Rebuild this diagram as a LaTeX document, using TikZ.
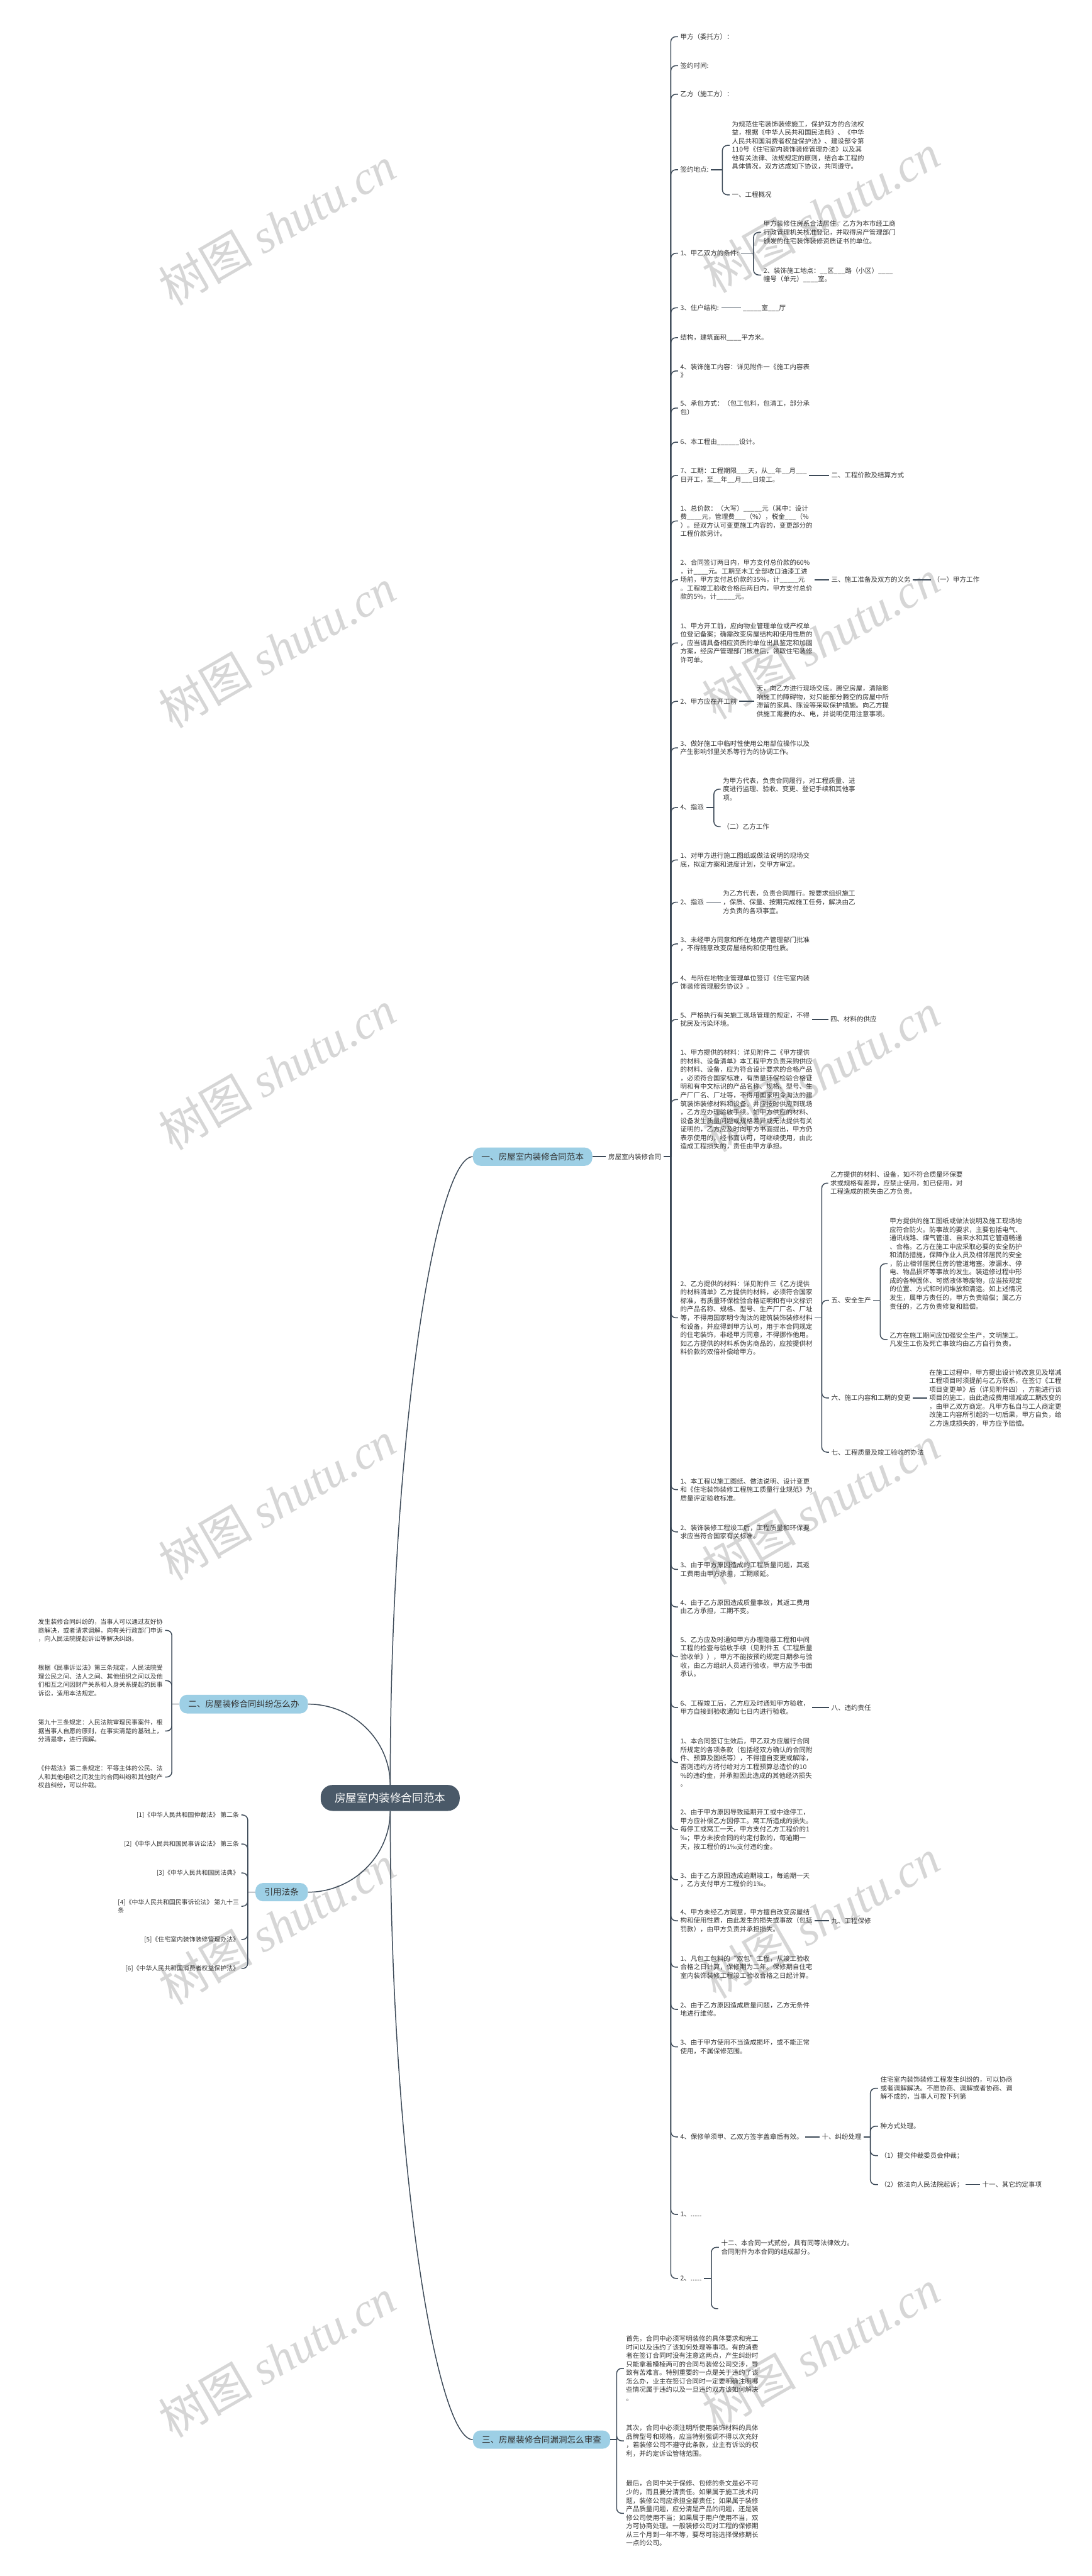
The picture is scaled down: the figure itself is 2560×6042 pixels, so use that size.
\documentclass[tikz,border=0pt]{standalone}
\usepackage{fontspec}
\setmainfont{Noto Sans CJK SC}
\newfontfamily\wmlatin{Liberation Serif}
\definecolor{lc}{HTML}{3D4A58}
\definecolor{tc}{HTML}{333333}
\definecolor{lb}{HTML}{9DCFE5}
\definecolor{rc}{HTML}{4A5968}
\definecolor{wmc}{HTML}{D6D6D6}
\begin{document}
\begin{tikzpicture}[x=0.5pt,y=-0.5pt,
  conn/.style={draw=lc,line width=1.1pt,rounded corners=6pt},
  bt/.style={anchor=west,align=left,inner xsep=2.5pt,inner ysep=1pt,text=tc,font=\fontsize{7.75pt}{10pt}\selectfont},
  lt/.style={anchor=east,align=left,inner xsep=2.5pt,inner ysep=1pt,text=tc,font=\fontsize{7.3pt}{10pt}\selectfont},
  lvone/.style={fill=lb,rounded corners=9pt,inner sep=0pt,text=tc,font=\fontsize{10pt}{12pt}\selectfont,minimum height=21.5pt},
  rootbox/.style={fill=rc,rounded corners=14pt,inner sep=0pt,text=white,font=\fontsize{13pt}{15pt}\selectfont,minimum height=30.5pt,minimum width=163pt},
  wm/.style={text=wmc,font=\fontsize{55pt}{55pt}\selectfont,rotate=30,inner sep=0pt}]
\useasboundingbox (0,0) rectangle (2560,6042);
\fill[white] (0,0) rectangle (2560,6042);
% watermarks
\foreach \wy in {500,1500,2515,3530,4500,5510} {\node[wm] at (1925,\wy) {树图 {\wmlatin\itshape shutu.cn}};}
\foreach \wy in {530,1520,2510,3520,4515,5530} {\node[wm] at (650,\wy) {树图 {\wmlatin\itshape shutu.cn}};}
% junction coordinates
\coordinate (JA) at (1573,0);
\coordinate (JA4) at (1694,0);
\coordinate (JA5) at (1767,0);
\coordinate (JA17) at (1674,0);
\coordinate (JB) at (1927,0);
\coordinate (JB2) at (2064,0);
\coordinate (JD) at (2041,0);
\coordinate (JE) at (1668,0);
\coordinate (JF) at (1446,0);
\coordinate (JL2) at (403,0);
\coordinate (JL4) at (581,0);
% root and level one
\node[rootbox] (root) at (915,4217) {房屋室内装修合同范本};
\node[lvone,minimum width=140pt] (n1) at (1249,2713) {一、房屋室内装修合同范本};
\node[lvone,minimum width=150.5pt,minimum height=22pt] (n2) at (571.5,3997) {二、房屋装修合同纠纷怎么办};
\node[lvone,minimum width=161pt] (n3) at (1270,5722) {三、房屋装修合同漏洞怎么审查};
\node[lvone,minimum width=61.5pt] (n4) at (660.5,4438) {引用法条};
\node[bt] (hc) at (1421,2713) {房屋室内装修合同};
% trunk A children
\node[bt] (a1) at (1590,86) {甲方（委托方）：};
\node[bt] (a2) at (1590,154) {签约时间:};
\node[bt] (a3) at (1590,221) {乙方（施工方）：};
\node[bt] (a4) at (1590,398) {签约地点:};
\node[bt] (a5) at (1590,594) {1、甲乙双方的条件:};
\node[bt] (a6) at (1590,722) {3、住户结构:};
\node[bt] (a7) at (1590,792) {结构，建筑面积\_\_\_\_平方米。};
\node[bt] (a8) at (1590,870) {4、装饰施工内容：详见附件一《施工内容表\\》};
\node[bt] (a9) at (1590,957) {5、承包方式：（包工包料，包清工，部分承\\包）};
\node[bt] (a10) at (1590,1037) {6、本工程由\_\_\_\_\_\_设计。};
\node[bt] (a11) at (1590,1115) {7、工期：工程期限\_\_\_天，从\_\_年\_\_月\_\_\_\\日开工，至\_\_年\_\_月\_\_\_日竣工。};
\node[bt] (a12) at (1590,1222) {1、总价款：（大写）\_\_\_\_\_元（其中：设计\\费\_\_\_\_元，管理费\_\_\_（\%），税金\_\_\_（\%\\）。经双方认可变更施工内容的，变更部分的\\工程价款另计。};
\node[bt] (a13) at (1590,1360) {2、合同签订两日内，甲方支付总价款的60\%\\，计\_\_\_\_元。工期至木工全部收口油漆工进\\场前，甲方支付总价款的35\%，计\_\_\_\_\_元\\。工程竣工验收合格后两日内，甲方支付总价\\款的5\%，计\_\_\_\_\_元。};
\node[bt] (a14) at (1590,1508) {1、甲方开工前，应向物业管理单位或产权单\\位登记备案；确需改变房屋结构和使用性质的\\，应当请具备相应资质的单位出具鉴定和加固\\方案，经房产管理部门核准后，领取住宅装修\\许可单。};
\node[bt] (a15) at (1590,1645) {2、甲方应在开工前};
\node[bt] (a16) at (1590,1754) {3、做好施工中临时性使用公用部位操作以及\\产生影响邻里关系等行为的协调工作。};
\node[bt] (a17) at (1590,1894) {4、指派};
\node[bt] (a18) at (1590,2017) {1、对甲方进行施工图纸或做法说明的现场交\\底，拟定方案和进度计划，交甲方审定。};
\node[bt] (a19) at (1590,2116) {2、指派};
\node[bt] (a20) at (1590,2214) {3、未经甲方同意和所在地房产管理部门批准\\，不得随意改变房屋结构和使用性质。};
\node[bt] (a21) at (1590,2304) {4、与所在地物业管理单位签订《住宅室内装\\饰装修管理服务协议》。};
\node[bt] (a22) at (1590,2391) {5、严格执行有关施工现场管理的规定，不得\\扰民及污染环境。};
\node[bt] (a23) at (1590,2579) {1、甲方提供的材料：详见附件二《甲方提供\\的材料、设备清单》本工程甲方负责采购供应\\的材料、设备，应为符合设计要求的合格产品\\，必须符合国家标准，有质量环保检验合格证\\明和有中文标识的产品名称、规格、型号、生\\产厂厂名、厂址等，不得用国家明令淘汰的建\\筑装饰装修材料和设备。并应按时供应到现场\\，乙方应办理验收手续。如甲方供应的材料、\\设备发生质量问题或规格差异或无法提供有关\\证明的，乙方应及时向甲方书面提出，甲方仍\\表示使用的，经书面认可，可继续使用，由此\\造成工程损失的，责任由甲方承担。};
\node[bt] (a24) at (1590,3091) {2、乙方提供的材料：详见附件三《乙方提供\\的材料清单》乙方提供的材料，必须符合国家\\标准，有质量环保检验合格证明和有中文标识\\的产品名称、规格、型号、生产厂厂名、厂址\\等，不得用国家明令淘汰的建筑装饰装修材料\\和设备，并应得到甲方认可，用于本合同规定\\的住宅装饰，非经甲方同意，不得挪作他用。\\如乙方提供的材料系伪劣商品的，应按提供材\\料价款的双倍补偿给甲方。};
\node[bt] (a25) at (1590,3494) {1、本工程以施工图纸、做法说明、设计变更\\和《住宅装饰装修工程施工质量行业规范》为\\质量评定验收标准。};
\node[bt] (a26) at (1590,3593) {2、装饰装修工程竣工后，工程质量和环保要\\求应当符合国家有关标准。};
\node[bt] (a27) at (1590,3681) {3、由于甲方原因造成的工程质量问题，其返\\工费用由甲方承担，工期顺延。};
\node[bt] (a28) at (1590,3769) {4、由于乙方原因造成质量事故，其返工费用\\由乙方承担，工期不变。};
\node[bt] (a29) at (1590,3886) {5、乙方应及时通知甲方办理隐蔽工程和中间\\工程的检查与验收手续（见附件五《工程质量\\验收单》），甲方不能按预约规定日期参与验\\收，由乙方组织人员进行验收，甲方应予书面\\承认。};
\node[bt] (a30) at (1590,4005) {6、工程竣工后，乙方应及时通知甲方验收，\\甲方自接到验收通知七日内进行验收。};
\node[bt] (a31) at (1590,4134) {1、本合同签订生效后，甲乙双方应履行合同\\所规定的各项条款（包括经双方确认的合同附\\件、预算及图纸等），不得擅自变更或解除，\\否则违约方将付给对方工程预算总造价的10\\\%的违约金，并承担因此造成的其他经济损失\\。};
\node[bt] (a32) at (1590,4291) {2、由于甲方原因导致延期开工或中途停工，\\甲方应补偿乙方因停工。窝工所造成的损失。\\每停工或窝工一天，甲方支付乙方工程价的1\\‰；甲方未按合同的约定付款的，每逾期一\\天，按工程价的1‰支付违约金。};
\node[bt] (a33) at (1590,4409) {3、由于乙方原因造成逾期竣工，每逾期一天\\，乙方支付甲方工程价的1‰。};
\node[bt] (a34) at (1590,4505) {4、甲方未经乙方同意，甲方擅自改变房屋结\\构和使用性质，由此发生的损失或事故（包括\\罚款），由甲方负责并承担损失。};
\node[bt] (a35) at (1590,4614) {1、凡包工包料的“双包”工程，从竣工验收\\合格之日计算，保修期为二年。保修期自住宅\\室内装饰装修工程竣工验收合格之日起计算。};
\node[bt] (a36) at (1590,4713) {2、由于乙方原因造成质量问题，乙方无条件\\地进行维修。};
\node[bt] (a37) at (1590,4801) {3、由于甲方使用不当造成损坏，或不能正常\\使用，不属保修范围。};
\node[bt] (a38) at (1590,5012) {4、保修单须甲、乙双方签字盖章后有效。};
\node[bt] (a39) at (1590,5194) {1、......};
\node[bt] (a40) at (1590,5344) {2、......};
% deeper nodes
\node[bt] (a4c1) at (1711,341) {为规范住宅装饰装修施工，保护双方的合法权\\益，根据《中华人民共和国民法典》、《中华\\人民共和国消费者权益保护法》、建设部令第\\110号《住宅室内装饰装修管理办法》以及其\\他有关法律、法规规定的原则，结合本工程的\\具体情况，双方达成如下协议，共同遵守。};
\node[bt] (a4c2) at (1711,457) {一、工程概况};
\node[bt] (a5c1) at (1785,545) {甲方装修住房系合法居住。乙方为本市经工商\\行政管理机关核准登记，并取得房产管理部门\\颁发的住宅装饰装修资质证书的单位。};
\node[bt] (a5c2) at (1785,645) {2、装饰施工地点：\_\_区\_\_\_路（小区）\_\_\_\_\\幢号（单元）\_\_\_\_室。};
\node[bt] (a6c) at (1737,722) {\_\_\_\_\_室\_\_\_厅};
\node[bt] (a11c) at (1944,1115) {二、工程价款及结算方式};
\node[bt] (a13c) at (1944,1360) {三、施工准备及双方的义务};
\node[bt] (a13cc) at (2183,1360) {（一）甲方工作};
\node[bt] (a15c) at (1769,1645) {天，向乙方进行现场交底。腾空房屋，清除影\\响施工的障碍物，对只能部分腾空的房屋中所\\滞留的家具、陈设等采取保护措施。向乙方提\\供施工需要的水、电，并说明使用注意事项。};
\node[bt] (a17c1) at (1690,1851) {为甲方代表，负责合同履行，对工程质量、进\\度进行监理、验收、变更、登记手续和其他事\\项。};
\node[bt] (a17c2) at (1690,1939) {（二）乙方工作};
\node[bt] (a19c) at (1690,2116) {为乙方代表，负责合同履行。按要求组织施工\\，保质、保量、按期完成施工任务，解决由乙\\方负责的各项事宜。};
\node[bt] (a22c) at (1942,2391) {四、材料的供应};
\node[bt] (b1) at (1942,2775) {乙方提供的材料、设备，如不符合质量环保要\\求或规格有差异，应禁止使用，如已使用，对\\工程造成的损失由乙方负责。};
\node[bt] (b2) at (1944,3050) {五、安全生产};
\node[bt] (b3) at (1944,3279) {六、施工内容和工期的变更};
\node[bt] (b4) at (1944,3406) {七、工程质量及竣工验收的办法};
\node[bt] (b2c1) at (2081,2964) {甲方提供的施工图纸或做法说明及施工现场地\\应符合防火。防事故的要求，主要包括电气、\\通讯线路、煤气管道、自来水和其它管道畅通\\、合格。乙方在施工中应采取必要的安全防护\\和消防措施，保障作业人员及相邻居民的安全\\，防止相邻居民住房的管道堵塞。渗漏水、停\\电、物品损坏等事故的发生。装运修过程中形\\成的各种固体、可燃液体等废物，应当按规定\\的位置、方式和时间堆放和清运。如上述情况\\发生，属甲方责任的，甲方负责赔偿；属乙方\\责任的，乙方负责修复和赔偿。};
\node[bt] (b2c2) at (2081,3142) {乙方在施工期间应加强安全生产，文明施工。\\凡发生工伤及死亡事故均由乙方自行负责。};
\node[bt] (b3c) at (2174,3279) {在施工过程中，甲方提出设计修改意见及增减\\工程项目时须提前与乙方联系，在签订《工程\\项目变更单》后（详见附件四），方能进行该\\项目的施工，由此造成费用增减或工期改变的\\，由甲乙双方商定。凡甲方私自与工人商定更\\改施工内容所引起的一切后果，甲方自负，给\\乙方造成损失的，甲方应予赔偿。};
\node[bt] (a30c) at (1944,4005) {八、违约责任};
\node[bt] (a34c) at (1944,4505) {九、工程保修};
\node[bt] (a38c) at (1922,5012) {十、纠纷处理};
\node[bt] (d1) at (2059,4898) {住宅室内装饰装修工程发生纠纷的，可以协商\\或者调解解决。不愿协商、调解或者协商、调\\解不成的，当事人可按下列第};
\node[bt] (d2) at (2059,4987) {种方式处理。};
\node[bt] (d3) at (2059,5056) {（1）提交仲裁委员会仲裁；};
\node[bt] (d4) at (2059,5124) {（2）依法向人民法院起诉；};
\node[bt] (d4c) at (2298,5124) {十一、其它约定事项};
\node[bt] (e1) at (1686,5271) {十二、本合同一式贰份，具有同等法律效力。\\合同附件为本合同的组成部分。};
\coordinate (e2) at (1684,5415);
\node[bt] (f1) at (1463,5555) {首先，合同中必须写明装修的具体要求和完工\\时间以及违约了该如何处理等事项。有的消费\\者在签订合同时没有注意这两点，产生纠纷时\\只能拿着模棱两可的合同与装修公司交涉，导\\致有苦难言。特别重要的一点是关于违约了该\\怎么办，业主在签订合同时一定要明确注明哪\\些情况属于违约以及一旦违约双方该如何解决\\。};
\node[bt] (f2) at (1463,5725) {其次，合同中必须注明所使用装饰材料的具体\\品牌型号和规格，应当特别强调不得以次充好\\，若装修公司不遵守此条款，业主有诉讼的权\\利，并约定诉讼管辖范围。};
\node[bt] (f3) at (1463,5895) {最后，合同中关于保修、包修的条文是必不可\\少的，而且要分清责任。如果属于施工技术问\\题，装修公司应承担全部责任；如果属于装修\\产品质量问题，应分清是产品的问题，还是装\\修公司使用不当；如果属于用户使用不当，双\\方可协商处理。一般装修公司对工程的保修期\\从三个月到一年不等，要尽可能选择保修期长\\一点的公司。};
% left side
\node[lt] (l1) at (387,3824) {发生装修合同纠纷的，当事人可以通过友好协\\商解决，或者请求调解，向有关行政部门申诉\\，向人民法院提起诉讼等解决纠纷。};
\node[lt] (l2) at (387,3942) {根据《民事诉讼法》第三条规定，人民法院受\\理公民之间、法人之间、其他组织之间以及他\\们相互之间因财产关系和人身关系提起的民事\\诉讼，适用本法规定。};
\node[lt] (l3) at (387,4060) {第九十三条规定：人民法院审理民事案件，根\\据当事人自愿的原则，在事实清楚的基础上，\\分清是非，进行调解。};
\node[lt] (l4) at (387,4168) {《仲裁法》第二条规定：平等主体的公民、法\\人和其他组织之间发生的合同纠纷和其他财产\\权益纠纷，可以仲裁。};
\node[lt] (r1) at (566,4257) {[1]《中华人民共和国仲裁法》 第二条};
\node[lt] (r2) at (566,4325) {[2]《中华人民共和国民事诉讼法》 第三条};
\node[lt] (r3) at (566,4393) {[3]《中华人民共和国民法典》};
\node[lt] (r4) at (566,4471) {[4]《中华人民共和国民事诉讼法》 第九十三\\条};
\node[lt] (r5) at (566,4549) {[5]《住宅室内装饰装修管理办法》};
\node[lt] (r6) at (566,4617) {[6]《中华人民共和国消费者权益保护法》};
% root connectors
\draw[conn] (root.north) .. controls (915,3376) and (1022,2713) .. (n1.west);
\draw[conn] (root.north) .. controls (915,4082) and (828,3997) .. (n2.east);
\draw[conn] (root.south) .. controls (915,4352) and (828,4438) .. (n4.east);
\draw[conn] (root.south) .. controls (915,5058) and (1022,5722) .. (n3.west);
% straight links
\draw[conn] (n1.east) -- (hc.west);
\draw[conn] (a6.east) -- (a6c.west);
\draw[conn] (a11.east) -- (a11c.west);
\draw[conn] (a13.east) -- (a13c.west);
\draw[conn] (a13c.east) -- (a13cc.west);
\draw[conn] (a15.east) -- (a15c.west);
\draw[conn] (a19.east) -- (a19c.west);
\draw[conn] (a22.east) -- (a22c.west);
\draw[conn] (b3.east) -- (b3c.west);
\draw[conn] (a30.east) -- (a30c.west);
\draw[conn] (a34.east) -- (a34c.west);
\draw[conn] (a38.east) -- (a38c.west);
\draw[conn] (d4.east) -- (d4c.west);
% trunk A
\draw[conn] (hc.east) -- (hc.east -| JA);
\foreach \c in {a1,a2,a3,a4,a5,a6,a7,a8,a9,a10,a11,a12,a13,a14,a15,a16,a17,a18,a19,a20,a21,a22,a23,a24,a25,a26,a27,a28,a29,a30,a31,a32,a33,a34,a35,a36,a37,a38,a39,a40}
  {\draw[conn] (hc.east -| JA) |- (\c.west);}
% small brackets
\draw[conn] (a4.east) -- (a4.east -| JA4);
\foreach \c in {a4c1,a4c2} {\draw[conn] (a4.east -| JA4) |- (\c.west);}
\draw[conn] (a5.east) -- (a5.east -| JA5);
\foreach \c in {a5c1,a5c2} {\draw[conn] (a5.east -| JA5) |- (\c.west);}
\draw[conn] (a17.east) -- (a17.east -| JA17);
\foreach \c in {a17c1,a17c2} {\draw[conn] (a17.east -| JA17) |- (\c.west);}
\draw[conn] (a24.east) -- (a24.east -| JB);
\foreach \c in {b1,b2,b3,b4} {\draw[conn] (a24.east -| JB) |- (\c.west);}
\draw[conn] (b2.east) -- (b2.east -| JB2);
\foreach \c in {b2c1,b2c2} {\draw[conn] (b2.east -| JB2) |- (\c.west);}
\draw[conn] (a38c.east) -- (a38c.east -| JD);
\foreach \c in {d1,d2,d3,d4} {\draw[conn] (a38c.east -| JD) |- (\c.west);}
\draw[conn] (a40.east) -- (a40.east -| JE);
\draw[conn] (a40.east -| JE) |- (e1.west);
\draw[conn] (a40.east -| JE) |- (e2);
\draw[conn] (n3.east) -- (n3.east -| JF);
\foreach \c in {f1,f2,f3} {\draw[conn] (n3.east -| JF) |- (\c.west);}
% left brackets
\draw[conn] (n2.west) -- (n2.west -| JL2);
\foreach \c in {l1,l2,l3,l4} {\draw[conn] (n2.west -| JL2) |- (\c.east);}
\draw[conn] (n4.west) -- (n4.west -| JL4);
\foreach \c in {r1,r2,r3,r4,r5,r6} {\draw[conn] (n4.west -| JL4) |- (\c.east);}
\end{tikzpicture}
\end{document}
